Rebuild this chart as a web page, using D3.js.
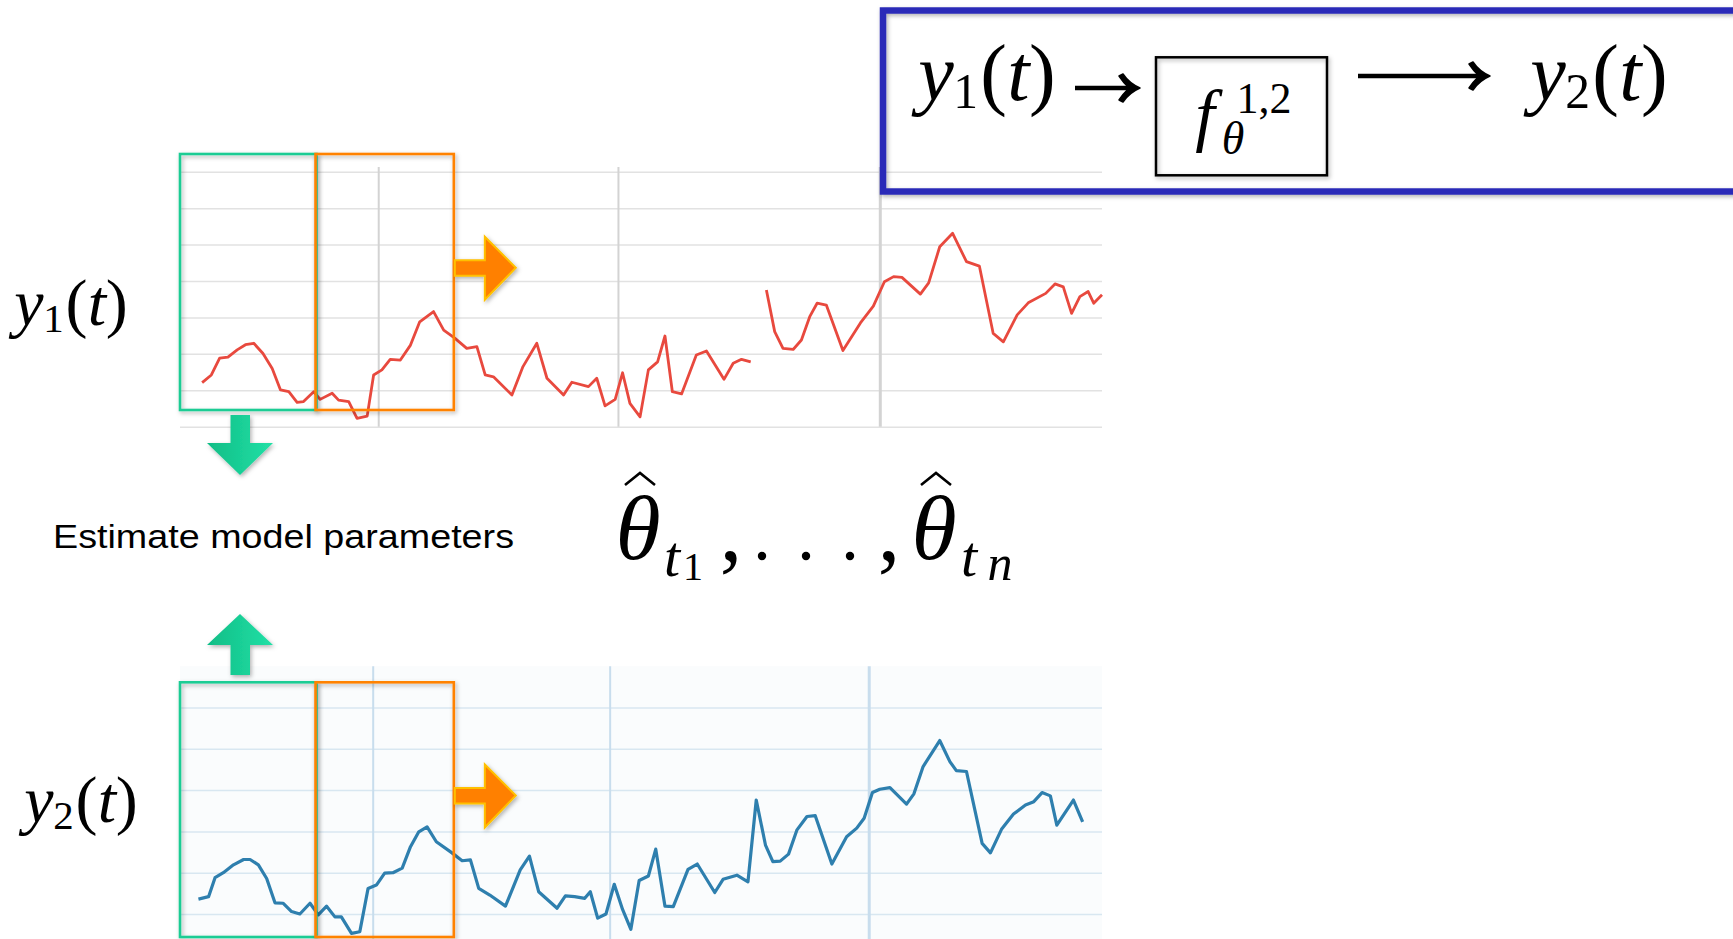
<!DOCTYPE html>
<html>
<head>
<meta charset="utf-8">
<script src="https://d3js.org/d3.v7.min.js"></script>
<style>
  body { margin: 0; background: #fff; overflow: hidden; }
  svg { display: block; }
</style>
</head>
<body>
<div id="chart"></div>
<script>
// series as [time, level] pairs, time 0..100 across the panel, level 0..7 grid units
const y1Series = [
  [2.4,1.21],[3.4,1.42],[4.3,1.88],[5.2,1.91],[6.2,2.11],[7.1,2.25],[8.0,2.29],[9.0,2.01],[10.0,1.60],[10.9,1.01],
  [11.8,0.96],[12.7,0.67],[13.4,0.69],[14.5,0.96],[15.2,0.75],[16.5,0.92],[17.2,0.73],[18.3,0.69],[19.2,0.23],[20.3,0.29],
  [21.0,1.42],[21.9,1.56],[22.8,1.85],[23.9,1.83],[25.0,2.24],[26.0,2.88],[27.5,3.16],[28.6,2.65],[29.8,2.43],[31.1,2.15],
  [32.2,2.20],[33.1,1.42],[34.0,1.37],[36.0,0.87],[37.2,1.65],[38.7,2.29],[39.8,1.33],[41.6,0.87],[42.5,1.22],[44.3,1.10],
  [45.2,1.33],[46.1,0.57],[47.2,0.75],[48.0,1.48],[48.8,0.64],[49.9,0.27],[50.8,1.56],[51.8,1.78],[52.6,2.49],[53.4,0.96],
  [54.4,0.90],[56.0,1.97],[57.1,2.08],[59.0,1.30],[60.0,1.74],[60.9,1.85],[61.9,1.78],[62.7,null],
  [63.6,3.75],[64.5,2.61],[65.4,2.15],[66.5,2.12],[67.4,2.38],[68.3,3.02],[69.1,3.39],[70.1,3.34],[71.9,2.09],[73.8,2.85],
  [75.2,3.31],[76.4,3.98],[77.4,4.12],[78.3,4.10],[80.3,3.64],[81.2,3.95],[82.4,4.94],[83.8,5.31],[85.3,4.53],[86.7,4.41],
  [88.2,2.56],[89.3,2.33],[90.8,3.07],[92.0,3.40],[93.9,3.66],[94.9,3.92],[95.8,3.84],[96.7,3.11],[97.6,3.57],[98.5,3.71],
  [99.1,3.39],[100,3.62]
];
const y2Series = [
  [2.0,1.36],[3.1,1.42],[3.8,1.88],[4.7,2.00],[5.8,2.19],[6.9,2.32],[7.6,2.32],[8.5,2.19],[9.4,1.86],[10.3,1.27],
  [11.2,1.26],[12.1,1.06],[13.0,1.00],[14.1,1.26],[15.0,0.98],[15.9,1.19],[16.8,0.93],[17.5,0.93],[18.6,0.53],[19.5,0.57],
  [20.4,1.62],[21.3,1.70],[22.2,1.99],[23.1,2.00],[24.1,2.11],[25.0,2.63],[25.9,2.99],[26.8,3.11],[27.8,2.75],[29.5,2.48],
  [30.6,2.29],[31.5,2.31],[32.4,1.62],[33.6,1.46],[35.3,1.19],[36.9,2.07],[37.9,2.40],[38.9,1.54],[40.9,1.14],[41.8,1.44],
  [42.8,1.42],[43.9,1.38],[44.5,1.54],[45.3,0.90],[46.2,1.00],[47.1,1.72],[48.0,1.11],[48.9,0.63],[49.8,1.81],[50.8,1.92],
  [51.6,2.57],[52.6,1.19],[53.5,1.18],[55.1,2.08],[56.1,2.21],[58.0,1.52],[58.9,1.84],[60.4,1.94],[61.6,1.78],[62.5,3.76],
  [63.5,2.67],[64.3,2.27],[65.1,2.28],[66.0,2.45],[66.9,3.03],[68.0,3.36],[68.9,3.38],[70.7,2.21],[72.3,2.87],[73.4,3.08],
  [74.2,3.32],[75.1,3.94],[75.9,4.02],[77.0,4.06],[78.8,3.66],[79.6,3.91],[80.6,4.57],[82.4,5.20],[83.5,4.69],[84.2,4.47],
  [85.3,4.45],[87.0,2.71],[87.9,2.48],[89.1,3.05],[90.4,3.42],[91.7,3.64],[92.6,3.72],[93.5,3.94],[94.4,3.86],[95.1,3.15],
  [96.9,3.76],[97.9,3.23]
];
const y1Marks = [21.5, 47.5, 75.9];     // vertical marker lines, time units
const y2Marks = [20.9, 46.6, 74.7];
const y1Grid = [0, 1, 2, 3, 4, 5, 6, 7];
const y2Grid = [1, 2, 3, 4, 5, 6];
const windows = [[0, 14.8], [14.7, 29.7]];  // estimation windows (time units)
const windowColors = ["#1fcc94", "#ff8200"];

const W = 1733, H = 939;
const svg = d3.select("#chart").append("svg").attr("width", W).attr("height", H);

const defs = svg.append("defs");
const sh = defs.append("filter").attr("id", "shadow").attr("x", "-10%").attr("y", "-10%").attr("width", "130%").attr("height", "130%");
sh.append("feDropShadow").attr("dx", 1.5).attr("dy", 2).attr("stdDeviation", 2).attr("flood-color", "#000").attr("flood-opacity", 0.3);
const gg = defs.append("linearGradient").attr("id", "greenGrad").attr("x1", 0).attr("x2", 1).attr("y1", 0).attr("y2", 0);
gg.append("stop").attr("offset", "0%").attr("stop-color", "#10bd86");
gg.append("stop").attr("offset", "100%").attr("stop-color", "#22e0a6");

// scales
const x = d3.scaleLinear().domain([0, 100]).range([180, 1102]);
const yTop = d3.scaleLinear().domain([0, 7]).range([426.7, 171.7]);
const yBot = d3.scaleLinear().domain([0, 7]).range([955.3, 666.2]);

// bottom panel background
svg.append("rect").attr("x", x(0)).attr("y", yBot(7)).attr("width", x(100) - x(0)).attr("height", H - yBot(7))
  .attr("fill", "#fafcfd");

// horizontal grids
function hgrid(scale, ticks, color) {
  svg.append("g").attr("transform", `translate(${x(0)},0)`)
    .call(d3.axisRight(scale).tickValues(ticks).tickSize(x(100) - x(0)).tickFormat(""))
    .call(g => g.select(".domain").remove())
    .call(g => g.selectAll("line").attr("stroke", color).attr("stroke-width", 1.5));
}
hgrid(yTop, y1Grid, "#e2e2e2");
hgrid(yBot, y2Grid, "#d8e7f1");

// vertical marker lines
function vgrid(marks, top, len, color) {
  svg.append("g").attr("transform", `translate(0,${top})`)
    .call(d3.axisBottom(x).tickValues(marks).tickSize(len).tickFormat(""))
    .call(g => g.select(".domain").remove())
    .call(g => g.selectAll("line").attr("stroke", color).attr("stroke-width", (d, i) => i === 2 ? 3 : 2));
}
vgrid(y1Marks, 167, yTop(0) - 167, "#d3d3d3");
vgrid(y2Marks, yBot(7), H - yBot(7), "#c8dded");

// series lines
const lineTop = d3.line().defined(d => d[1] != null).x(d => x(d[0])).y(d => yTop(d[1]));
const lineBot = d3.line().x(d => x(d[0])).y(d => yBot(d[1]));
svg.append("path").datum(y1Series).attr("d", lineTop).attr("fill", "none")
  .attr("stroke", "#e8493e").attr("stroke-width", 2.8).attr("stroke-linejoin", "round");
svg.append("path").datum(y2Series).attr("d", lineBot).attr("fill", "none")
  .attr("stroke", "#2e7fae").attr("stroke-width", 3.2).attr("stroke-linejoin", "round");

// estimation windows
[[154, 410], [682.3, 937]].forEach(([t, b]) => {
  windows.forEach((w, i) => {
    svg.append("rect").attr("x", x(w[0])).attr("y", t).attr("width", x(w[1]) - x(w[0])).attr("height", b - t)
      .attr("fill", "none").attr("stroke", windowColors[i]).attr("stroke-width", 2.6).attr("filter", "url(#shadow)");
  });
});

// orange "slide" arrows
function orangeArrow(x0, cy) {
  const p = d3.path();
  p.moveTo(x0, cy - 7.5); p.lineTo(x0 + 30, cy - 7.5); p.lineTo(x0 + 30, cy - 31);
  p.lineTo(x0 + 61, cy); p.lineTo(x0 + 30, cy + 32); p.lineTo(x0 + 30, cy + 8); p.lineTo(x0, cy + 8); p.closePath();
  svg.append("path").attr("d", p.toString()).attr("fill", "#ff8000").attr("stroke", "#ffc000")
    .attr("stroke-width", 2).attr("filter", "url(#shadow)");
}
orangeArrow(x(windows[1][1]) + 1, 267.7);
orangeArrow(x(windows[1][1]) + 1, 795.5);

// green arrows
function greenArrow(cx, tipY, baseY, tailY) {
  const p = d3.path();
  p.moveTo(cx, tipY); p.lineTo(cx + 33, baseY); p.lineTo(cx + 10, baseY); p.lineTo(cx + 10, tailY);
  p.lineTo(cx - 9.5, tailY); p.lineTo(cx - 9.5, baseY); p.lineTo(cx - 33, baseY); p.closePath();
  svg.append("path").attr("d", p.toString()).attr("fill", "url(#greenGrad)").attr("filter", "url(#shadow)");
}
greenArrow(240, 475, 443, 415);
greenArrow(240, 614, 645, 675);

// math text: one <text> per formula, one tspan per glyph (centred at cx)
const serif = "'Liberation Serif', 'Times New Roman', serif";
function formula(pieces) {
  const t = svg.append("text").attr("font-family", serif).attr("fill", "#000").attr("text-anchor", "middle");
  pieces.forEach(p => {
    t.append("tspan").attr("x", p[1]).attr("y", p[2]).attr("font-size", p[3])
      .attr("font-style", p[4] ? "italic" : "normal").text(p[0]);
  });
}
function yLabel(sub, x0, base, size) {
  formula([
    ["y", x0, base, size, true],
    [sub, x0 + size * 0.37, base + size * 0.1, size * 0.62, false],
    ["(", x0 + size * 0.72, base, size, false],
    ["t", x0 + size * 1.03, base, size, true],
    [")", x0 + size * 1.33, base, size, false]
  ]);
}
yLabel("1", 29, 325, 66);
yLabel("2", 39, 822, 66);

svg.append("text").attr("x", 53).attr("y", 548).attr("font-family", "'Liberation Sans', Arial, sans-serif")
  .attr("font-size", 34).attr("textLength", 461).attr("lengthAdjust", "spacingAndGlyphs")
  .attr("fill", "#000").text("Estimate model parameters");

// theta-hat sequence
function hat(cx, top, w) {
  svg.append("path").attr("d", `M${cx - w / 2},${top + 12} L${cx},${top} L${cx + w / 2},${top + 12}`)
    .attr("fill", "none").attr("stroke", "#000").attr("stroke-width", 2.6);
}
formula([
  ["θ", 638, 559, 92, true],
  ["t", 672, 576, 58, true],
  ["1", 693, 580, 40, false],
  [",", 731, 560, 90, false],
  [",", 889, 560, 90, false],
  ["θ", 934, 559, 92, true],
  ["t", 969, 576, 58, true],
  ["n", 1000, 580, 50, true]
]);
hat(640, 473, 30);
hat(936, 473, 30);
[762, 806, 850].forEach(cx => svg.append("circle").attr("cx", cx).attr("cy", 556).attr("r", 4.2).attr("fill", "#000"));

// model box
svg.append("rect").attr("x", 883).attr("y", 10.5).attr("width", 870).attr("height", 181)
  .attr("fill", "none").attr("stroke", "#2b2bb8").attr("stroke-width", 6.5).attr("filter", "url(#shadow)");
yLabel("1", 936, 100, 80);
yLabel("2", 1548, 100, 80);
svg.append("rect").attr("x", 1156).attr("y", 57.3).attr("width", 171).attr("height", 118)
  .attr("fill", "none").attr("stroke", "#000").attr("stroke-width", 2.5).attr("filter", "url(#shadow)");
formula([
  ["f", 1205, 138, 70, true],
  ["1,2", 1264, 113, 44, false],
  ["θ", 1233, 154, 46, true]
]);

function texArrow(x0, x1, y) {
  svg.append("line").attr("x1", x0).attr("x2", x1 - 6).attr("y1", y).attr("y2", y)
    .attr("stroke", "#000").attr("stroke-width", 4.5);
  const p = d3.path();
  p.moveTo(x1, y);
  p.bezierCurveTo(x1 - 7, y - 3, x1 - 13, y - 8, x1 - 17, y - 14);
  p.lineTo(x1 - 21, y - 12);
  p.bezierCurveTo(x1 - 17, y - 6, x1 - 14, y - 3, x1 - 11, y);
  p.bezierCurveTo(x1 - 14, y + 3, x1 - 17, y + 6, x1 - 21, y + 12);
  p.lineTo(x1 - 17, y + 14);
  p.bezierCurveTo(x1 - 13, y + 8, x1 - 7, y + 3, x1, y);
  p.closePath();
  svg.append("path").attr("d", p.toString()).attr("fill", "#000").attr("stroke", "#000").attr("stroke-width", 1.5)
    .attr("stroke-linejoin", "round");
}
texArrow(1075, 1140, 88);
texArrow(1358, 1490, 76);
</script>
</body>
</html>
